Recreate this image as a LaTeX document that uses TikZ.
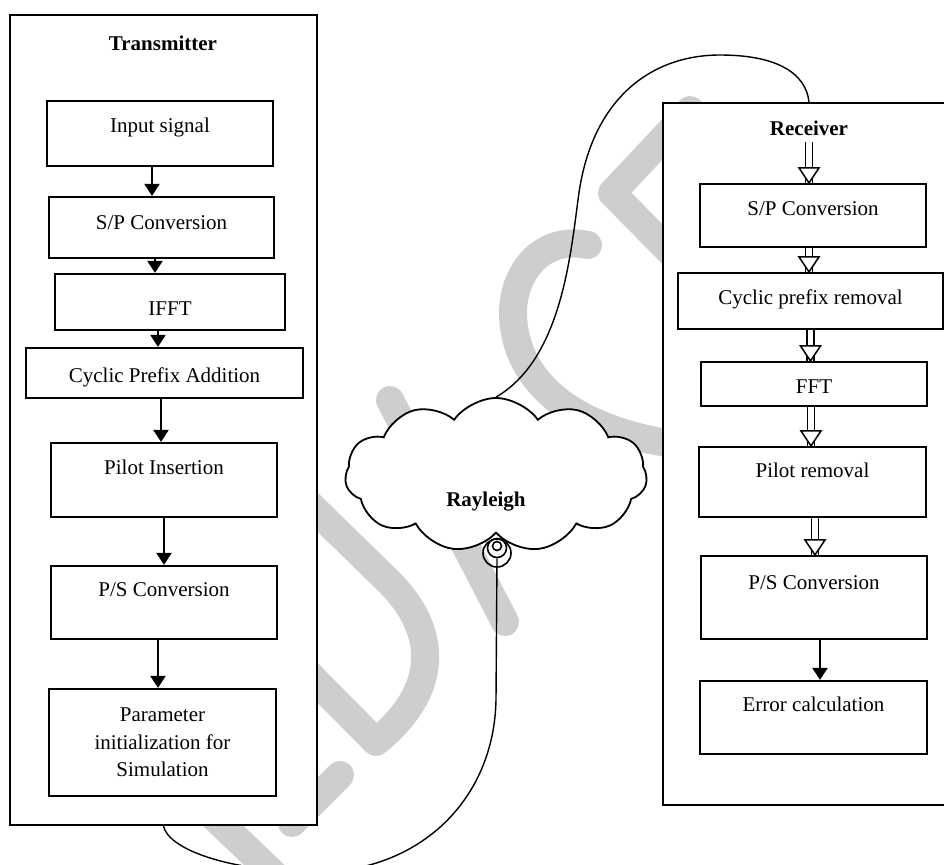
\documentclass[tikz,border=0pt]{standalone}
\usepackage{fontspec}
\setmainfont{Liberation Serif}
\usetikzlibrary{arrows.meta,shapes.symbols,decorations.markings}
\definecolor{wmark}{RGB}{206,206,208}
\tikzset{
  block/.style={draw, fill=white, line width=1.1pt, rectangle, inner sep=3pt, align=center},
  lift/.style={text height=7pt, text depth=#1},
  drop/.style={text height=#1, text depth=0pt},
  frame/.style={draw, fill=white, line width=1.1pt, rectangle},
  title/.style={font=\fontsize{10.5}{13.7}\selectfont\bfseries},
  jack/.style={circle, draw, line width=0.8pt, inner sep=0pt},
  arr/.style={line width=1.1pt, -{Triangle[length=6pt,width=7.5pt]}},
  hol/.style={double, double distance=2.6pt, line width=0.75pt,
    postaction={draw=none, decorate, decoration={markings, mark=at position 1 with {\draw[line width=0.75pt, fill=white] (0,0) -- (-7.5pt,5pt) -- (-7.5pt,-5pt) -- cycle;}}}},
  wire/.style={line width=0.7pt},
  wm/.style={wmark, line width=14pt, line cap=round, line join=round}
}
\begin{document}
\begin{tikzpicture}[x=0.5pt, y=-0.5pt, font=\fontsize{10.5}{13.7}\selectfont]
\fill[white] (0,0) rectangle (944,864);
\useasboundingbox (0,0) rectangle (944,864);

\draw[wm] (300,495) -- (385,578) .. controls (440,630) and (440,690) .. (376,742) -- (290,655);
\draw[wm] (170,775) -- (280,880);
\draw[wm] (340,775) -- (292,823);
\draw[wm] (588,245) .. controls (540,235) and (512,275) .. (513,315) .. controls (515,380) and (570,430) .. (680,445);
\draw[wm] (690,110) -- (612,193) -- (690,272);
\draw[wm] (390,400) -- (505,622);

\node[frame, minimum width=153.5pt, minimum height=405pt] (tx) at (163.5,420) {};
\node[frame, minimum width=146pt, minimum height=351pt] (rx) at (809,454) {};

\node[title] (txlbl) at (163,43) {Transmitter};
\node[title] (rxlbl) at (809,128) {Receiver};

\node[block, minimum width=113pt, minimum height=32.5pt, lift=8.5pt] (in) at (160,133.5) {Input signal};
\node[block, minimum width=112.5pt, minimum height=30.5pt, lift=5.5pt] (sp) at (161.5,227.5) {S/P Conversion};
\node[block, minimum width=115pt, minimum height=28pt, drop=13pt] (ifft) at (170,302) {IFFT};
\node[block, minimum width=138.5pt, minimum height=25pt, drop=9pt] (cp) at (164.5,373) {Cyclic Prefix Addition};
\node[block, minimum width=113pt, minimum height=37pt, lift=13pt] (pil) at (164,480) {Pilot Insertion};
\node[block, minimum width=113pt, minimum height=36.5pt, lift=13.5pt] (ps) at (164,602.5) {P/S Conversion};
\node[block, minimum width=113.5pt, minimum height=53.5pt] (par) at (162.5,742.5) {Parameter\\initialization for\\Simulation};

\node[block, minimum width=113pt, minimum height=31.5pt, lift=7.5pt] (rsp) at (813,215.5) {S/P Conversion};
\node[block, minimum width=132.5pt, minimum height=28pt, lift=4pt] (rcp) at (810.5,301) {Cyclic prefix removal};
\node[block, minimum width=113pt, minimum height=22pt, drop=9pt] (fft) at (814,384) {FFT};
\node[block, minimum width=113.5pt, minimum height=35pt, lift=12pt] (prm) at (812.5,482) {Pilot removal};
\node[block, minimum width=113pt, minimum height=41.5pt, lift=15.5pt] (rps) at (814,597.5) {P/S Conversion};
\node[block, minimum width=113.5pt, minimum height=36.5pt, lift=13.5pt] (err) at (813.5,717.5) {Error calculation};

\node[cloud, draw, fill=white, line width=0.9pt, cloud puffs=11, cloud puff arc=110, aspect=2,
  minimum width=151pt, minimum height=77pt,
  label={[title, xshift=-5pt, yshift=-13.5pt]center:Rayleigh}] (chan) at (496,475) {};
\node[jack, minimum size=14pt] (plug) at (497,553) {};
\node[jack, minimum size=9.5pt] (ring) at (497,548) {};
\node[jack, minimum size=4.5pt] (pin) at (497,546) {};

\draw[arr] ([xshift=-4pt]in.south) -- ([xshift=-4pt]in.south |- sp.north);
\draw[arr] ([xshift=-3.25pt]sp.south) -- ([xshift=-3.25pt]sp.south |- ifft.north);
\draw[arr] ([xshift=-6pt]ifft.south) -- ([xshift=-6pt]ifft.south |- cp.north);
\draw[arr] ([xshift=-1.75pt]cp.south) -- ([xshift=-1.75pt]cp.south |- pil.north);
\draw[arr] (pil.south) -- (pil.south |- ps.north);
\draw[arr] ([xshift=-3pt]ps.south) -- ([xshift=-3pt]ps.south |- par.north);

\draw[hol] (rxlbl.south) -- (rxlbl.south |- rsp.north);
\draw[hol] ([xshift=-2pt]rsp.south) -- ([xshift=-2pt]rsp.south |- rcp.north);
\draw[hol] (rcp.south) -- (rcp.south |- fft.north);
\draw[hol] ([xshift=-1.5pt]fft.south) -- ([xshift=-1.5pt]fft.south |- prm.north);
\draw[hol] ([xshift=1.25pt]prm.south) -- ([xshift=1.25pt]prm.south |- rps.north);
\draw[arr] ([xshift=3pt]rps.south) -- ([xshift=3pt]rps.south |- err.north);

\draw[wire] (chan.north) .. controls (560,360) and (570,260) .. (578,200) .. controls (590,100) and (650,55) .. (720,55) .. controls (780,55) and (806,75) .. (rx.north);
\draw[wire] (ring.south) -- (496,700) .. controls (494,800) and (420,870) .. (320,872) .. controls (225,872) and (168,848) .. (tx.south);
\end{tikzpicture}
\end{document}
